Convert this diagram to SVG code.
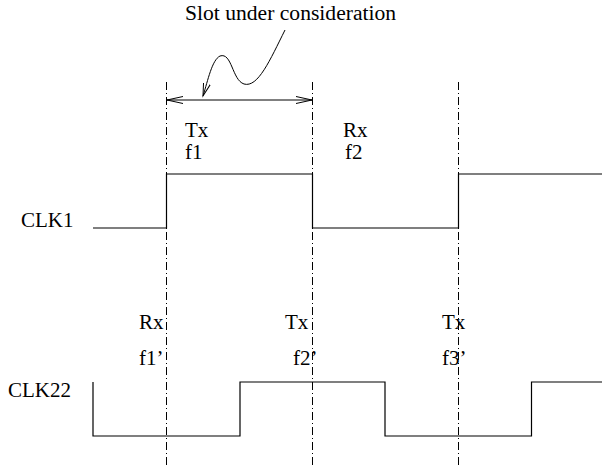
<svg xmlns="http://www.w3.org/2000/svg" width="602" height="468" viewBox="0 0 602 468">
<style>
text{font-family:"Liberation Serif","Times New Roman",serif;font-size:21px;fill:#000}
.sig{fill:none;stroke:#000;stroke-width:1.2}
.grid{fill:none;stroke:#000;stroke-width:1;stroke-dasharray:8 3 1 3}
.ln{fill:none;stroke:#000;stroke-width:1}
</style>
<defs>
<marker id="ah" markerUnits="userSpaceOnUse" markerWidth="20" markerHeight="12" refX="16" refY="4" orient="auto-start-reverse" viewBox="0 0 20 8">
<path d="M0,0.5 L16,4 L0,7.5" fill="none" stroke="#000" stroke-width="1"/>
</marker>
<marker id="ah2" markerUnits="userSpaceOnUse" markerWidth="16" markerHeight="12" refX="13" refY="4" orient="auto" viewBox="0 0 16 8">
<path d="M0,0.5 L13,4 L0,7.5" fill="none" stroke="#000" stroke-width="1"/>
</marker>
</defs>
<rect width="602" height="468" fill="#fff"/>
<g id="gridlines">
<line class="grid" x1="166.5" y1="82" x2="166.5" y2="468"/>
<line class="grid" x1="312.5" y1="82" x2="312.5" y2="468"/>
<line class="grid" x1="458.5" y1="82" x2="458.5" y2="468"/>
</g>
<g id="connectors">
<line class="ln" x1="167" y1="100" x2="312" y2="100" marker-start="url(#ah)" marker-end="url(#ah)"/>
<path class="ln" d="M285,30 C270,60 258,88 244,84 C232,80 232,52 220,56 C212,60 208,80 203,96" marker-end="url(#ah2)"/>
</g>
<g id="title"><text x="185" y="20" style="font-size:21.6px">Slot under consideration</text></g>
<g id="clk1">
<text x="21" y="227">CLK1</text>
<path class="sig" d="M93,228 H166.5 V174 H312.5 V228 H458.5 V174 H602"/>
<text x="185" y="137">Tx</text>
<text x="185" y="159">f1</text>
<text x="343" y="137">Rx</text>
<text x="345" y="159">f2</text>
</g>
<g id="clk22">
<text x="8" y="397">CLK22</text>
<path class="sig" d="M93,382 V436 H240 V382 H385 V436 H531.5 V382 H602"/>
<text x="139" y="329">Rx</text>
<text x="139" y="365">f1’</text>
<text x="285" y="329">Tx</text>
<text x="293" y="365">f2’</text>
<text x="442" y="329">Tx</text>
<text x="442" y="365">f3’</text>
</g>
</svg>
